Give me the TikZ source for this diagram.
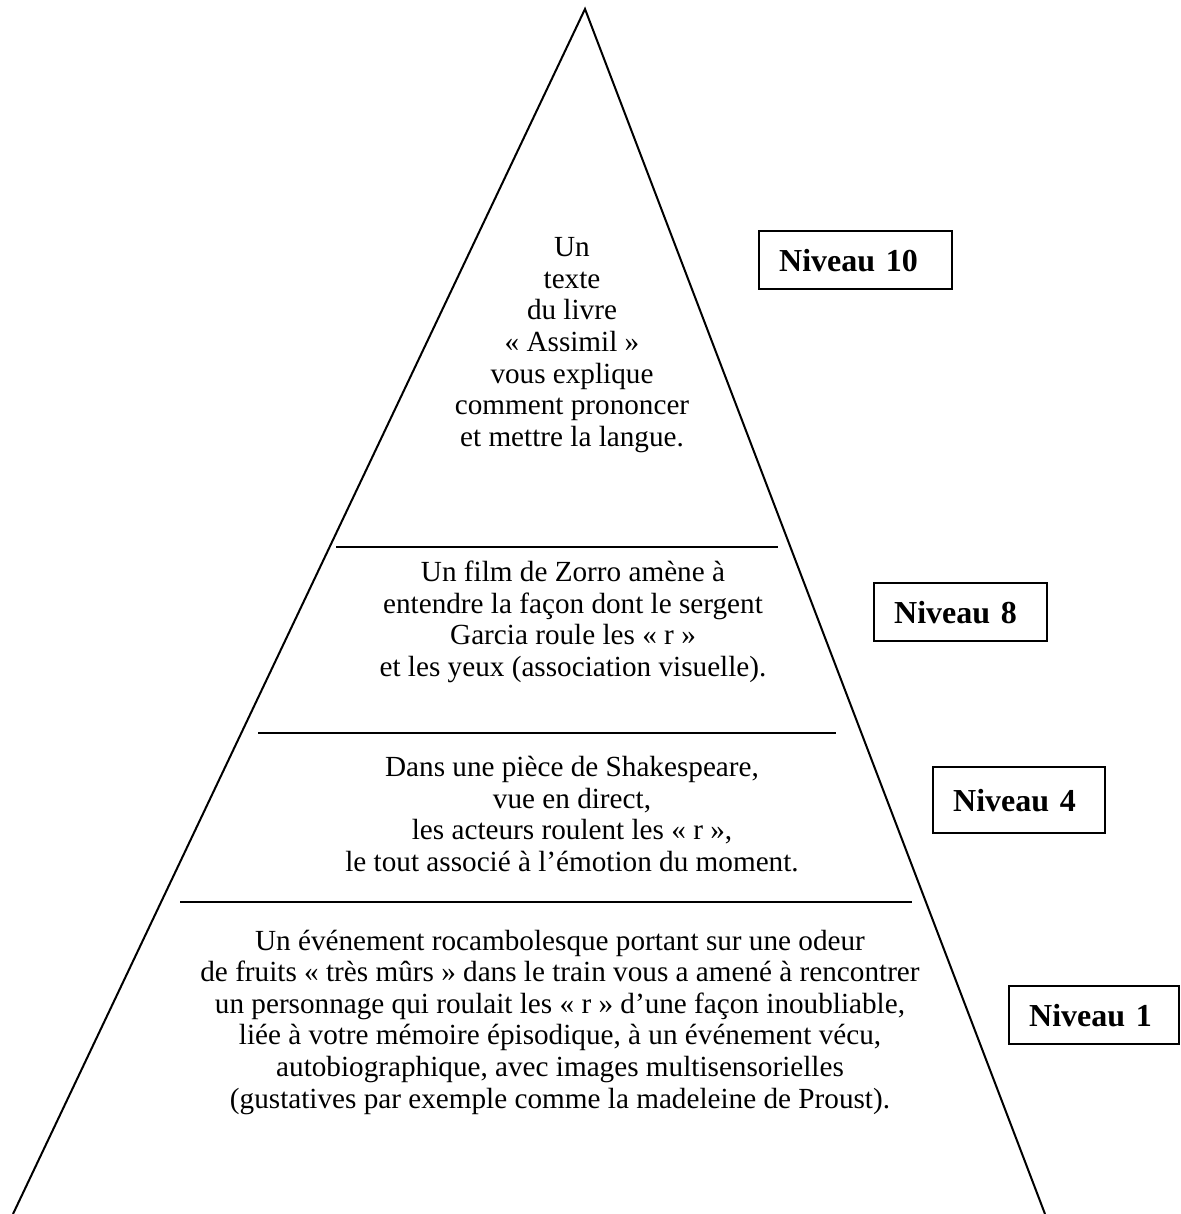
\documentclass[tikz,border=0pt]{standalone}
\usepackage{fontspec}
\setmainfont{Liberation Serif}
\usepackage{tikz}

\tikzset{
	niveau/.style={draw, line width=1.2pt, anchor=north west, inner xsep=10pt, inner ysep=0pt, align=left, font=\bfseries\fontsize{16}{18}\selectfont},
	palier/.style={align=center, inner sep=0pt, font=\fontsize{14.6}{15.8}\selectfont},
}

\begin{document}
\begin{tikzpicture}[x=0.5pt, y=-0.5pt, line width=1pt]
	\useasboundingbox (0,0) rectangle (1180,1214);

	% la pyramide
	\coordinate (sommet) at (585,9);
	\coordinate (baseg) at (13,1214);
	\coordinate (based) at (1045,1214);
	\draw (baseg) to (sommet) to (based);

	% separations
	\coordinate (s1g) at (336,547);
	\coordinate (s1d) at (778,547);
	\coordinate (s2g) at (258,733);
	\coordinate (s2d) at (836,733);
	\coordinate (s3g) at (180,902);
	\coordinate (s3d) at (912,902);
	\draw (s1g) to (s1d);
	\draw (s2g) to (s2d);
	\draw (s3g) to (s3d);

	% textes
	\node[palier] (t10) at (572,345) {Un\\texte\\du livre\\« Assimil »\\vous explique\\comment prononcer\\et mettre la langue.};
	\node[palier] (t8) at (573,622) {Un film de Zorro amène à\\entendre la façon dont le sergent\\Garcia roule les « r »\\et les yeux (association visuelle).};
	\node[palier] (t4) at (572,814) {Dans une pièce de Shakespeare,\\vue en direct,\\les acteurs roulent les « r »,\\le tout associé à l’émotion du moment.};
	\node[palier] (t1) at (560,1022) {Un événement rocambolesque portant sur une odeur\\de fruits « très mûrs » dans le train vous a amené à rencontrer\\un personnage qui roulait les « r » d’une façon inoubliable,\\liée à votre mémoire épisodique, à un événement vécu,\\autobiographique, avec images multisensorielles\\(gustatives par exemple comme la madeleine de Proust).};

	% niveaux
	\node[niveau, text width=76.5pt, minimum height=29pt] (n10) at (758,230) {Niveau 10};
	\node[niveau, text width=66.5pt, minimum height=29pt] (n8) at (873,582) {Niveau 8};
	\node[niveau, text width=66pt, minimum height=33pt] (n4) at (932,766) {Niveau 4};
	\node[niveau, text width=65pt, minimum height=29pt] (n1) at (1008,985) {Niveau 1};
\end{tikzpicture}
\end{document}
